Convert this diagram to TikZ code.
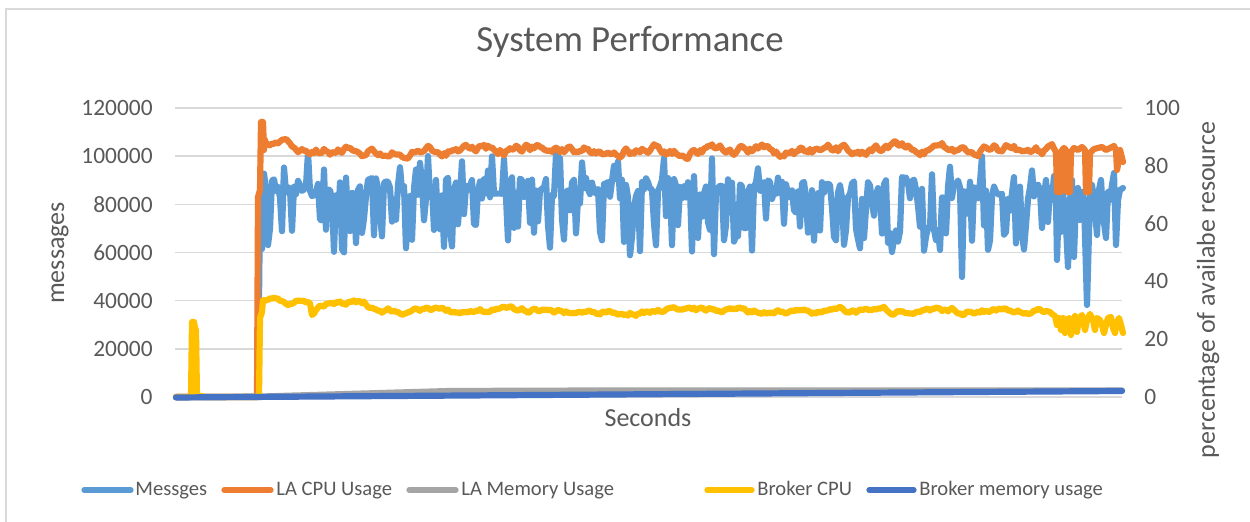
\documentclass[tikz,border=0pt]{standalone}
\usepackage{fontspec}
\setmainfont{Carlito}
\definecolor{txt}{HTML}{595959}
\definecolor{gridc}{HTML}{D9D9D9}
\definecolor{msgblue}{HTML}{5B9BD5}
\definecolor{cpuorange}{HTML}{ED7D31}
\definecolor{memgray}{HTML}{A5A5A5}
\definecolor{brkyellow}{HTML}{FFC000}
\definecolor{brkblue}{HTML}{4472C4}
\tikzset{
  series/.style={line width=3.1pt, line join=round, line cap=round},
  keyline/.style={line width=2.6pt, line cap=round},
  msgline/.style={series, draw=msgblue},
  cpuline/.style={series, draw=cpuorange},
  memline/.style={series, draw=memgray},
  bcpuline/.style={series, draw=brkyellow},
  bmemline/.style={series, draw=brkblue},
  gridline/.style={draw=gridc, line width=0.75pt},
  ticklbl/.style={font=\fontsize{11.7}{14}\selectfont, text=txt, inner sep=0pt},
  axtitle/.style={font=\fontsize{13}{15}\selectfont, text=txt, inner sep=0pt},
  legtext/.style={font=\fontsize{10.3}{12}\selectfont, text=txt, inner sep=0pt, anchor=base west},
}
\begin{document}
\begin{tikzpicture}[x=0.5pt,y=-0.5pt]
\useasboundingbox (0,0) rectangle (1250,522);
\fill[white] (0,0) rectangle (1250,522);
% chart frame (left and top edges)
\draw[draw=gridc, line width=0.75pt] (6,522) -- (6,9) -- (1250,9);

% title
\node[font=\fontsize{18.4}{22}\selectfont, text=txt, inner sep=0pt, anchor=base] (title) at (630,52) {System Performance};

% horizontal gridlines and tick labels
\foreach \v [count=\i from 0] in {0,20000,40000,60000,80000,100000,120000}{
  \draw[gridline] (175,{397-\i*48.1667}) -- (1122,{397-\i*48.1667});
  \node[ticklbl, anchor=east] (l\i) at (153,{397-\i*48.1667}) {\v};
}
\foreach \v [count=\i from 0] in {0,20,40,60,80,100}{
  \node[ticklbl, anchor=west] (r\i) at (1144,{397-\i*57.8}) {\v};
}

% axis titles
\node[axtitle, rotate=90] (ytitle) at (60,253) {messages};
\node[axtitle, rotate=90] (y2title) at (1208,290) {percentage of availabe resource};
\node[axtitle, anchor=base] (xtitle) at (648,427) {Seconds};

% ---------- data series ----------
% Messages
\pgfmathsetseed{4}
\xdef\msgpts{(176,397) (258,397) (260,205)}
\foreach \x in {262,264,...,1038}{
  \pgfmathsetmacro\ny{ifthenelse(\x==962,277,ifthenelse(\x==892,252,188+11*rand+(\x<330)*12*rand+(rnd<0.33)*(30+28*rnd)-(rnd<0.1)*(15+16*rnd)))}
  \xdef\msgpts{\msgpts (\x,\ny)}
}
\xdef\msgpts{\msgpts (1040,190) (1042,228) (1044,196) (1046,180) (1048,222) (1050,188) (1052,200) (1054,176) (1056,200) (1057,260) (1059,198) (1061,232) (1063,195) (1065,205) (1068,267) (1070,200) (1072,180) (1074,257) (1076,198) (1078,188) (1080,220) (1082,192) (1084,200) (1087,305) (1090,196) (1092,185) (1094,200) (1097,235) (1099,190) (1101,180) (1103,215) (1106,238) (1108,192) (1110,200) (1112,185) (1114,173) (1116,245) (1118,200) (1120,190) (1123,188)}
\edef\drawmsg{\noexpand\draw[msgline] plot coordinates {\msgpts};}
\drawmsg

% LA CPU usage
\pgfmathsetseed{11}
\xdef\cy{142}
\xdef\cpupts{(176,397) (257,397) (258,197) (260,190) (261,122) (263,122) (264,150) (265,140)}
\foreach \x in {266,268,...,1054}{
  \pgfmathsetmacro\m{ifthenelse(\x<330,142+(\x-266)*0.12,150)}
  \pgfmathsetmacro\ny{\cy+0.2*(\m-\cy)+3.6*rand}
  \xdef\cy{\ny}
  \xdef\cpupts{\cpupts (\x,\ny)}
}
\xdef\cpupts{\cpupts (1056,152) (1057,192) (1061,192) (1062,150) (1064,148) (1066,150) (1067,192) (1070,192) (1071,152) (1074,148) (1078,150) (1082,147) (1085,150) (1086,192) (1089,192) (1090,153) (1094,149) (1098,148) (1102,147) (1106,150) (1110,148) (1114,146) (1116,150) (1117,170) (1118,165) (1120,150) (1123,162)}
\edef\drawcpu{\noexpand\draw[cpuline] plot coordinates {\cpupts};}
\drawcpu

% LA memory usage
\draw[memline] (176,397) -- (262,396.5) -- (450,391) -- (600,390.5) -- (1122,390.5);

% Broker CPU
\pgfmathsetseed{23}
\xdef\cy{302}
\xdef\bcpupts{(176,397) (191,397) (192,322) (194,322) (195,328) (196,330) (197,397) (202,396) (204,397) (259,397) (260,318) (262,312) (263,300) (265,301)}
\foreach \x in {266,268,...,1048}{
  \pgfmathsetmacro\m{ifthenelse(\x<365,303,311)}
  \pgfmathsetmacro\ny{ifthenelse(\x==312,315,\cy+0.2*(\m-\cy)+2*rand)}
  \xdef\cy{\ny}
  \xdef\bcpupts{\bcpupts (\x,\ny)}
}
\xdef\bcpupts{\bcpupts (1050,312) (1052,314) (1055,316) (1057,325) (1059,318) (1061,330) (1063,318) (1065,333) (1067,320) (1069,318) (1071,335) (1073,320) (1075,316) (1077,332) (1079,318) (1082,315) (1085,330) (1087,320) (1090,314) (1093,320) (1095,330) (1097,318) (1100,320) (1102,325) (1104,333) (1106,325) (1108,318) (1111,317) (1113,328) (1115,333) (1117,322) (1119,318) (1121,325) (1123,333)}
\edef\drawbcpu{\noexpand\draw[bcpuline] plot coordinates {\bcpupts};}
\drawbcpu

% Broker memory usage
\draw[bmemline] (176,397.5) -- (1122,391);

% ---------- legend ----------
\coordinate (k1a) at (84,490);  \coordinate (k1b) at (131,490);
\coordinate (k2a) at (224,490); \coordinate (k2b) at (271,490);
\coordinate (k3a) at (409,490); \coordinate (k3b) at (456,490);
\coordinate (k4a) at (707,490); \coordinate (k4b) at (752,490);
\coordinate (k5a) at (869,490); \coordinate (k5b) at (914,490);
\draw[keyline, draw=msgblue]   (k1a) -- (k1b);
\draw[keyline, draw=cpuorange] (k2a) -- (k2b);
\draw[keyline, draw=memgray]   (k3a) -- (k3b);
\draw[keyline, draw=brkyellow] (k4a) -- (k4b);
\draw[keyline, draw=brkblue]   (k5a) -- (k5b);
\node[legtext] (t1) at (135,496) {Messges};
\node[legtext] (t2) at (276,496) {LA CPU Usage};
\node[legtext] (t3) at (461,496) {LA Memory Usage};
\node[legtext] (t4) at (757,496) {Broker CPU};
\node[legtext] (t5) at (919,496) {Broker memory usage};
\end{tikzpicture}
\end{document}
